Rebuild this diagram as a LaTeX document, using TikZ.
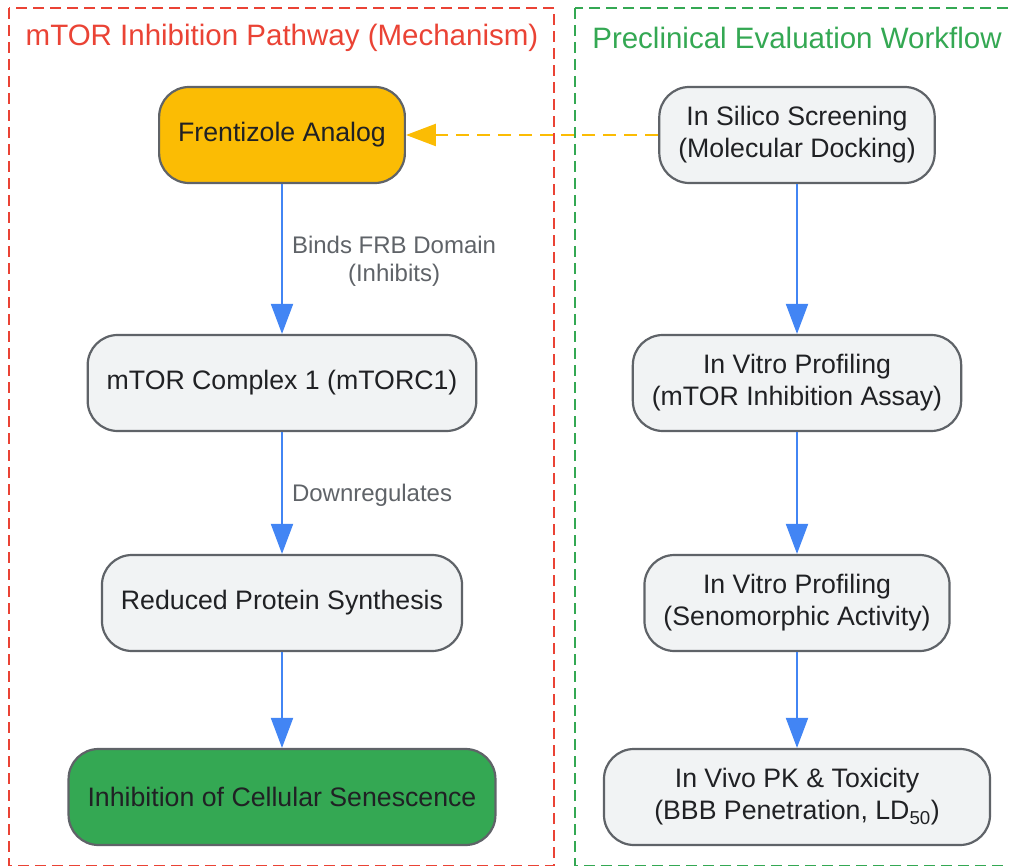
\documentclass[tikz,border=0pt]{standalone}
\usepackage{fontspec}
\setmainfont{Liberation Sans}
\usepackage{tikz}
\usetikzlibrary{arrows.meta}
\usepackage{xcolor}
\definecolor{clred}{HTML}{EA4335}
\definecolor{clgreen}{HTML}{34A853}
\definecolor{amber}{HTML}{FBBC04}
\definecolor{flowblue}{HTML}{4285F4}
\definecolor{boxfill}{HTML}{F1F3F4}
\definecolor{boxline}{HTML}{5F6368}
\definecolor{ink}{HTML}{202124}

\tikzset{
    box/.style={draw=boxline, line width=2.2pt, rounded corners=30pt, fill=boxfill,
        text=ink, align=center, minimum height=96pt, inner xsep=19pt,
        font=\fontsize{26.7}{32}\selectfont},
    flow/.style={draw=flowblue, line width=2pt, -{Triangle[length=30pt,width=22pt]}},
    hint/.style={draw=amber, line width=2.5pt, dash pattern=on 13pt off 8pt,
        -{Triangle[length=30pt,width=22pt]}},
    lbl/.style={text=boxline, font=\fontsize{24}{28}\selectfont, align=center,
        anchor=west, inner sep=0pt, xshift=9pt, yshift=-2.5pt},
    cluster/.style={line width=2.4pt, dash pattern=on 11pt off 6pt},
    heading/.style={font=\fontsize{29.5}{34}\selectfont},
}

\begin{document}
\begin{tikzpicture}[x=1pt, y=-1pt]
    \useasboundingbox (0,0) rectangle (1009,866);
    % Grupos
    \draw[cluster, draw=clred] (9,8) rectangle (554,866);
    \draw[cluster, draw=clgreen] (575,8) rectangle (1030,866);
    \node (mechTitle) [heading, text=clred] at (282,38) {mTOR Inhibition Pathway (Mechanism)};
    \node (evalTitle) [heading, text=clgreen] at (797,38) {Preclinical Evaluation Workflow};
    % Mecanismo
    \node (frent) [box, fill=amber] at (282,135) {Frentizole Analog};
    \node (mtor) [box] at (282,383) {mTOR Complex 1 (mTORC1)};
    \node (synth) [box] at (282,603) {Reduced Protein Synthesis};
    \node (senes) [box, fill=clgreen] at (282,797) {Inhibition of Cellular Senescence};
    % Avaliacao
    \node (silico) [box] at (797,135) {In Silico Screening\\(Molecular Docking)};
    \node (vitroA) [box] at (797,383) {In Vitro Profiling\\(mTOR Inhibition Assay)};
    \node (vitroB) [box] at (797,603) {In Vitro Profiling\\(Senomorphic Activity)};
    \node (vivo) [box, minimum width=386pt] at (797,797) {In Vivo PK \& Toxicity\\(BBB Penetration, LD\textsubscript{50})};
    % Setas
    \draw[flow] (frent) -- (mtor) node[lbl, midway] {Binds FRB Domain\\(Inhibits)};
    \draw[flow] (mtor) -- (synth) node[lbl, midway] {Downregulates};
    \draw[flow] (synth) -- (senes);
    \draw[flow] (silico) -- (vitroA);
    \draw[flow] (vitroA) -- (vitroB);
    \draw[flow] (vitroB) -- (vivo);
    \draw[hint] (silico) -- (frent);
\end{tikzpicture}
\end{document}
